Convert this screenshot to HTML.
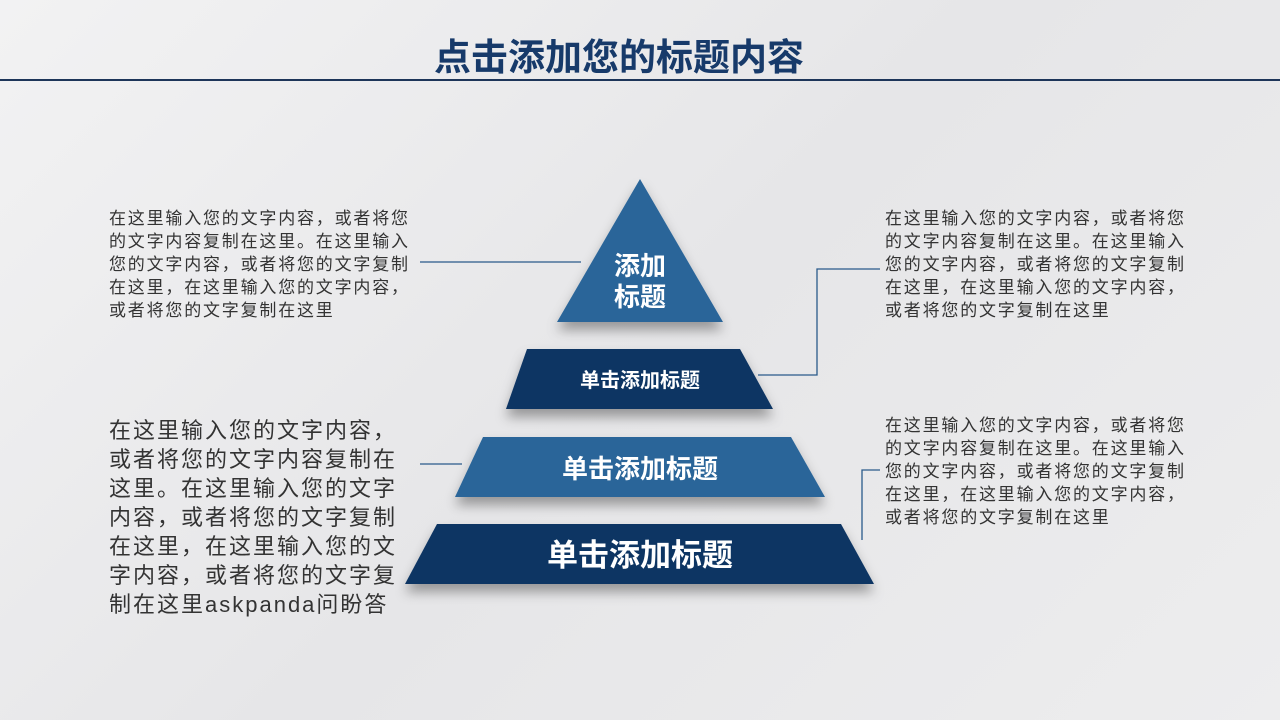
<!DOCTYPE html>
<html><head><meta charset="utf-8"><style>
body{margin:0;width:1280px;height:720px;overflow:hidden;background:linear-gradient(135deg,#f2f2f3 0%,#e6e6e8 50%,#ededee 100%);font-family:"Liberation Sans","Noto Sans CJK SC",sans-serif;position:relative}
.t{position:absolute;color:#333;font-size:17px;line-height:23px;letter-spacing:1.8px;white-space:nowrap}
.title{position:absolute;left:0;width:1238px;text-align:center;top:27px;font-size:37px;font-weight:bold;color:#173a6a}
</style></head><body>
<div class="title">点击添加您的标题内容</div>
<div style="position:absolute;left:0;top:79px;width:1280px;height:2px;background:#1d3559"></div>
<svg width="1280" height="720" style="position:absolute;left:0;top:0">
<defs><filter id="s" x="-20%" y="-20%" width="140%" height="160%"><feDropShadow dx="0" dy="8" stdDeviation="6" flood-color="#000" flood-opacity="0.35"/></filter></defs>
<g filter="url(#s)">
<polygon points="640,179 723,322 557,322" fill="#2a6599"/>
<polygon points="527,349 740,349 773,409 506,409" fill="#0d3463"/>
<polygon points="483,437 791,437 825,497 455,497" fill="#2a6599"/>
<polygon points="437,524 841,524 874,584 405,584" fill="#0d3463"/>
</g>
<g stroke="#2a5a8a" stroke-width="1.3" fill="none">
<line x1="420" y1="262" x2="581" y2="262"/>
<polyline points="758,375 817,375 817,269 880,269"/>
<line x1="420" y1="464" x2="462" y2="464"/>
<polyline points="862,540 862,470 880,470"/>
</g>
<g fill="#fff" font-weight="bold" text-anchor="middle" font-family="Liberation Sans,Noto Sans CJK SC,sans-serif">
<text x="640" y="275" font-size="26">添加</text>
<text x="640" y="306" font-size="26">标题</text>
<text x="640" y="387" font-size="20">单击添加标题</text>
<text x="640" y="478" font-size="26">单击添加标题</text>
<text x="640" y="566" font-size="31">单击添加标题</text>
</g>
</svg>
<div class="t" style="left:109px;top:207px">在这里输入您的文字内容，或者将您<br>的文字内容复制在这里。在这里输入<br>您的文字内容，或者将您的文字复制<br>在这里，在这里输入您的文字内容，<br>或者将您的文字复制在这里</div>
<div class="t" style="left:885px;top:207px">在这里输入您的文字内容，或者将您<br>的文字内容复制在这里。在这里输入<br>您的文字内容，或者将您的文字复制<br>在这里，在这里输入您的文字内容，<br>或者将您的文字复制在这里</div>
<div class="t" style="left:885px;top:414px">在这里输入您的文字内容，或者将您<br>的文字内容复制在这里。在这里输入<br>您的文字内容，或者将您的文字复制<br>在这里，在这里输入您的文字内容，<br>或者将您的文字复制在这里</div>
<div class="t" style="left:109px;top:416px;font-size:22px;line-height:29px;letter-spacing:2px">在这里输入您的文字内容，<br>或者将您的文字内容复制在<br>这里。在这里输入您的文字<br>内容，或者将您的文字复制<br>在这里，在这里输入您的文<br>字内容，或者将您的文字复<br>制在这里askpanda问盼答</div>
</body></html>
